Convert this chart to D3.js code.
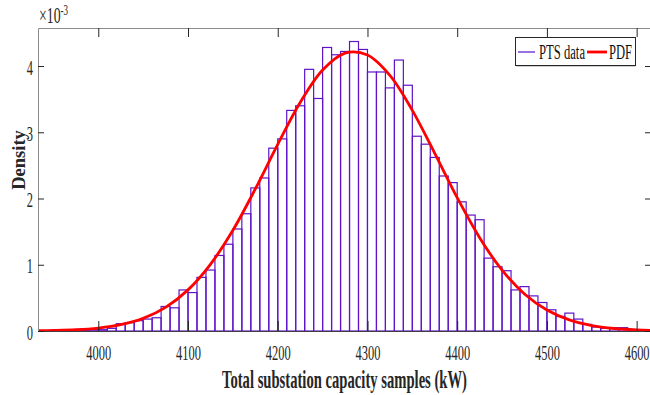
<!DOCTYPE html>
<html>
<head>
<meta charset="utf-8">
<script src="https://cdn.jsdelivr.net/npm/d3@7/dist/d3.min.js"></script>
<style>
  html, body { margin: 0; padding: 0; background: #fff; }
  svg { display: block; }
  text { font-family: "Liberation Serif", "Times New Roman", serif; }
</style>
</head>
<body>
<svg id="chart" width="650" height="395"></svg>
<script>
// ---- data ----
const binStarts = [3940,3950,3960,3970,3980,3990,4000,4010,4020,4030,4040,4050,4060,4070,4080,4090,
  4100,4110,4120,4130,4140,4150,4160,4170,4180,4190,4200,4210,4220,4230,4240,4250,4260,4270,4280,4290,
  4300,4310,4320,4330,4340,4350,4360,4370,4380,4390,4400,4410,4420,4430,4440,4450,4460,4470,4480,4490,
  4500,4510,4520,4530,4540,4550,4560,4570,4580,4590,4600];
const binDensity = [0.005,0.005,0.01,0.01,0.01,0.02,0.02,0.04,0.11,0.126,0.156,0.18,0.20,0.37,0.35,0.62,
  0.58,0.81,0.92,1.14,1.31,1.54,1.77,2.16,2.31,2.76,2.90,3.33,3.40,3.95,3.51,4.28,4.17,4.22,4.37,4.25,
  3.91,3.91,3.67,4.09,3.71,2.94,2.82,2.62,2.34,2.24,1.95,1.75,1.68,1.10,0.97,0.91,0.62,0.67,0.53,0.43,
  0.32,0.22,0.27,0.18,0.10,0.06,0.04,0.05,0.05,0.01,0.005]; // x 1e-3
const binWidth = 10;

const pdfX = [3933,3950,3975,4000,4025,4050,4075,4100,4125,4150,4175,4200,4225,4250,4275,4300,
  4325,4350,4375,4400,4425,4450,4475,4500,4525,4550,4575,4600,4625];
const pdfY = [0.004,0.008,0.019,0.045,0.096,0.191,0.357,0.621,1.007,1.520,2.144,2.817,3.449,3.940,4.196,4.167,
  3.859,3.331,2.682,2.013,1.409,0.919,0.559,0.317,0.168,0.083,0.038,0.016,0.0065]; // x 1e-3

const xTicks = [4000,4100,4200,4300,4400,4500,4600];
const yTicks = [0,1,2,3,4];
const xDomain = [3932.8, 4616];
const yDomain = [0, 4.574];
const legendLabels = ["PTS data", "PDF"];
const xLabel = "Total substation capacity samples (kW)";
const yLabel = "Density";

// ---- layout ----
const svg = d3.select("#chart");
const L = 38, R = 651, T = 28, B = 331;
const SQ = 0.58; // horizontal squish of glyphs
const barColor = "#5f14c8";
const pdfColor = "#ff0000";

const x = d3.scaleLinear().domain(xDomain).range([L, R]);
const y = d3.scaleLinear().domain(yDomain).range([B, T]);

svg.append("defs").append("clipPath").attr("id", "clip")
  .append("rect").attr("x", L).attr("y", T).attr("width", R - L).attr("height", B - T);

const plot = svg.append("g").attr("clip-path", "url(#clip)");

// histogram bars
plot.append("g").selectAll("rect")
  .data(binStarts.map((s, i) => ({ s, v: binDensity[i] })))
  .join("rect")
  .attr("x", d => x(d.s))
  .attr("width", d => x(d.s + binWidth) - x(d.s))
  .attr("y", d => y(d.v))
  .attr("height", d => y(0) - y(d.v))
  .attr("fill", "none")
  .attr("stroke", barColor)
  .attr("stroke-width", 1.2);

// pdf curve
const line = d3.line().x(d => x(d[0])).y(d => y(d[1])).curve(d3.curveCatmullRom);
plot.append("path")
  .datum(pdfX.map((v, i) => [v, pdfY[i]]))
  .attr("d", line)
  .attr("fill", "none")
  .attr("stroke", pdfColor)
  .attr("stroke-width", 2.8);

// ---- axes ----
const tickColor = "#262626";
const gx = svg.append("g").attr("transform", `translate(0,${B})`)
  .call(d3.axisBottom(x).tickValues(xTicks).tickSize(-10).tickSizeOuter(0).tickPadding(13.5).tickFormat(d3.format("d")));
gx.select(".domain").attr("stroke", "#404040");
gx.selectAll(".tick line").attr("stroke", tickColor);
gx.selectAll(".tick text").attr("font-size", 21.5).attr("fill", "#262626")
  .attr("font-family", "Liberation Serif").attr("transform", `scale(${SQ},1)`);

const gxt = svg.append("g").attr("transform", `translate(0,${T})`)
  .call(d3.axisTop(x).tickValues(xTicks).tickSize(-9).tickSizeOuter(0).tickFormat(""));
gxt.select(".domain").attr("stroke", "#8c8c8c");
gxt.selectAll(".tick line").attr("stroke", tickColor);

const gy = svg.append("g").attr("transform", `translate(${L},0)`)
  .call(d3.axisLeft(y).tickValues(yTicks).tickSize(-6).tickSizeOuter(0).tickFormat(d3.format("d")));
gy.select(".domain").attr("stroke", "#8c8c8c");
gy.selectAll(".tick line").attr("stroke", tickColor);
gy.selectAll(".tick text").attr("font-size", 21.5).attr("fill", "#262626")
  .attr("font-family", "Liberation Serif")
  .attr("x", 0).attr("dy", "0.38em")
  .attr("transform", `translate(-5,0) scale(${SQ},1)`);

const gyr = svg.append("g").attr("transform", `translate(${R},0)`)
  .call(d3.axisRight(y).tickValues(yTicks).tickSize(-6).tickSizeOuter(0).tickFormat(""));
gyr.select(".domain").attr("stroke", "#8c8c8c");
gyr.selectAll(".tick line").attr("stroke", tickColor);

// exponent label
const ex = svg.append("text").attr("transform", `translate(39,23) scale(0.6,1)`)
  .attr("font-size", 23).attr("fill", "#262626");
ex.append("tspan").text("×10");
ex.append("tspan").attr("font-size", 15).attr("dy", -8.5).text("-3");

// axis labels
svg.append("text")
  .attr("x", 344.5).attr("y", 387.5)
  .attr("text-anchor", "middle")
  .attr("font-size", 25).attr("font-weight", "bold").attr("fill", "#262626")
  .attr("textLength", 245).attr("lengthAdjust", "spacingAndGlyphs")
  .text(xLabel);

svg.append("text")
  .attr("transform", "translate(25,160) rotate(-90)")
  .attr("text-anchor", "middle")
  .attr("font-size", 18.5).attr("font-weight", "bold").attr("fill", "#262626")
  .text(yLabel);

// legend
const lg = svg.append("g");
lg.append("rect").attr("x", 516.5).attr("y", 39.5).attr("width", 119).attr("height", 27)
  .attr("fill", "#a0a0a0");
lg.append("rect").attr("x", 515.5).attr("y", 37.5).attr("width", 120).attr("height", 28)
  .attr("fill", "#fff").attr("stroke", "#262626").attr("stroke-width", 1);
lg.append("line").attr("x1", 518).attr("x2", 535).attr("y1", 52).attr("y2", 52)
  .attr("stroke", "#7a40d8").attr("stroke-width", 1.5);
lg.append("text").attr("x", 539).attr("y", 58.5).attr("font-size", 20).attr("fill", "#111")
  .attr("textLength", 46).attr("lengthAdjust", "spacingAndGlyphs").text(legendLabels[0]);
lg.append("line").attr("x1", 587).attr("x2", 607).attr("y1", 52).attr("y2", 52)
  .attr("stroke", pdfColor).attr("stroke-width", 2.8);
lg.append("text").attr("x", 609).attr("y", 58.5).attr("font-size", 20).attr("fill", "#111")
  .attr("textLength", 23).attr("lengthAdjust", "spacingAndGlyphs").text(legendLabels[1]);
</script>
</body>
</html>
